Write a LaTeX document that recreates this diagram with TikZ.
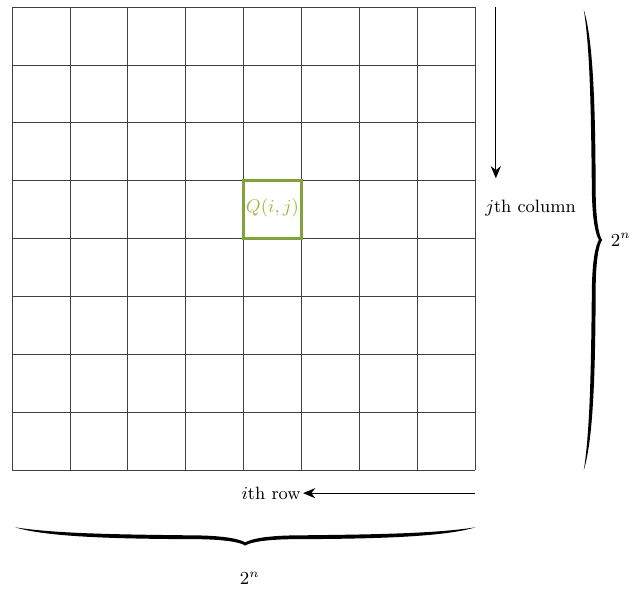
\documentclass[tikz,border=0pt]{standalone}
\usetikzlibrary{arrows.meta}
\definecolor{cellgreen}{RGB}{128,163,58}
\definecolor{labelgreen}{RGB}{168,178,72}

% tapered brace, ends at (-#1,0) and (#1,0), tip pointing down
\newcommand{\sizebrace}[1]{%
  \fill (-#1,0) .. controls ({-#1+0.7},-0.11) and (-2.2,-0.125) .. (-0.8,-0.14)
    .. controls (-0.35,-0.15) and (-0.1,-0.2) .. (0,-0.26)
    .. controls (0.1,-0.2) and (0.35,-0.15) .. (0.8,-0.14)
    .. controls (2.2,-0.125) and ({#1-0.7},-0.11) .. (#1,0)
    .. controls ({#1-0.55},-0.17) and (2.2,-0.2) .. (0.8,-0.205)
    .. controls (0.4,-0.21) and (0.1,-0.25) .. (0,-0.315)
    .. controls (-0.1,-0.25) and (-0.4,-0.21) .. (-0.8,-0.205)
    .. controls (-2.2,-0.2) and ({-#1+0.55},-0.17) .. (-#1,0) -- cycle;}

\begin{document}
\begin{tikzpicture}[x=1cm,y=1cm,font=\fontsize{8.8}{10}\selectfont,
  gridline/.style={line width=0.35pt,black!75},
  pointer/.style={-{Stealth[length=6pt,width=5pt]},line width=0.6pt}]
\useasboundingbox (-0.207,-2.143) rectangle (10.868,8.121);

% the 2^n x 2^n grid
\draw[gridline] (0,0) grid (8,8);
\draw[cellgreen,line width=1.6pt] (4,4) rectangle (5,5);
\node[text=labelgreen] (cell) at (4.5,4.52) {$Q(i,j)$};

% column pointer
\coordinate (ctop) at (8.36,8);
\coordinate (cend) at (8.36,5.04);
\node (col) at (8.96,4.53) {$j$th column};
\draw[pointer] (ctop)--(cend);

% row pointer
\coordinate (rstart) at (8,-0.4);
\node[anchor=east,inner sep=1pt] (row) at (5.03,-0.4) {$i$th row};
\draw[pointer] (rstart)--(row);

% sizes
\begin{scope}[shift={(9.88,3.975)},rotate=90]
\sizebrace{3.975}
\end{scope}
\node (vsize) at (10.52,3.97) {$2^n$};
\begin{scope}[shift={(4.03,-0.99)}]
\sizebrace{3.975}
\end{scope}
\node (hsize) at (4.11,-1.87) {$2^n$};
\end{tikzpicture}
\end{document}
